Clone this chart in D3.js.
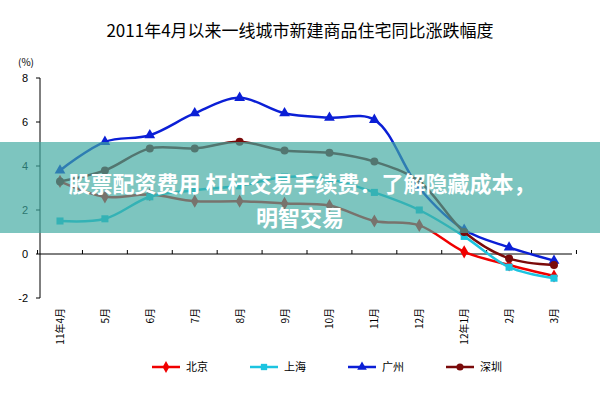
<!DOCTYPE html>
<html><head><meta charset="utf-8">
<script src="https://cdn.jsdelivr.net/npm/d3@7"></script>
<style>body{margin:0;background:#fff;font-family:"Noto Sans CJK SC",sans-serif}</style>
</head><body><div id="chart"></div>
<script>
var months = ["11年4月","5月","6月","7月","8月","9月","10月","11月","12月","12年1月","2月","3月"];
var beijing = [3.3, 2.6, 2.7, 2.4, 2.4, 2.3, 2.2, 1.5, 1.3, 0.1, -0.5, -1.0];
var shanghai = [1.5, 1.6, 2.6, 2.9, 3.1, 3.5, 3.4, 2.8, 2.0, 0.8, -0.6, -1.1];
var guangzhou = [3.8, 5.1, 5.4, 6.4, 7.1, 6.4, 6.2, 6.1, 3.0, 1.1, 0.3, -0.3];
var shenzhen = [3.3, 3.8, 4.8, 4.8, 5.1, 4.7, 4.6, 4.2, 3.3, 1.0, -0.2, -0.5];
var yTicks = [-2, 0, 2, 4, 6, 8];

var series = [
  {name:"北京", values:beijing, color:"#f00000", shape:d3.symbolDiamond},
  {name:"上海", values:shanghai, color:"#1cc4e0", shape:d3.symbolSquare},
  {name:"广州", values:guangzhou, color:"#0b1fd6", shape:d3.symbolTriangle},
  {name:"深圳", values:shenzhen, color:"#7a0a0a", shape:d3.symbolCircle}
];

var svg = d3.select("#chart").append("svg").attr("width",600).attr("height",400);

svg.append("text").attr("x",300).attr("y",37).attr("text-anchor","middle")
  .attr("font-size",17).text("2011年4月以来一线城市新建商品住宅同比涨跌幅度");

var x0 = 40, x1 = 572;
var x = d3.scalePoint().domain(months).range([60,554]);
var y = d3.scaleLinear().domain([-2,8]).range([298,78]);

// axes
svg.append("line").attr("x1",x0).attr("x2",x0).attr("y1",y(8)).attr("y2",y(-2)).attr("stroke","#000");
svg.append("line").attr("x1",x0).attr("x2",x1).attr("y1",y(0)).attr("y2",y(0)).attr("stroke","#000");
svg.selectAll(".yt").data(yTicks).enter().append("text")
  .attr("x",x0-12).attr("y",d=>y(d)+4).attr("text-anchor","end").attr("font-size",11)
  .attr("font-family","Liberation Sans").text(d=>d);
svg.selectAll(".ytk").data(yTicks).enter().append("line")
  .attr("x1",x0-4).attr("x2",x0).attr("y1",d=>y(d)).attr("y2",d=>y(d)).attr("stroke","#000");
svg.append("text").attr("x",x0-22).attr("y",66).attr("font-size",10).text("(%)");
var step = x.step();
svg.selectAll(".xtk").data(months.concat([""])).enter().append("line")
  .attr("x1",(d,i)=>x(months[0])-step/2+i*step).attr("x2",(d,i)=>x(months[0])-step/2+i*step)
  .attr("y1",y(0)).attr("y2",y(0)-4).attr("stroke","#000");
svg.selectAll(".xl").data(months).enter().append("text")
  .attr("transform",d=>`translate(${x(d)+4},${y(-2)+10}) rotate(-90)`)
  .attr("text-anchor","end").attr("font-size",10).text(d=>d);

// lines
var line = d3.line().x((d,i)=>x(months[i])).y(d=>y(d)).curve(d3.curveCatmullRom);
series.forEach(function(s){
  svg.append("path").datum(s.values).attr("d",line).attr("fill","none")
    .attr("stroke",s.color).attr("stroke-width",2.5);
  svg.selectAll(null).data(s.values).enter().append("path")
    .attr("d",d3.symbol().type(s.shape).size(50))
    .attr("transform",(d,i)=>`translate(${x(months[i])},${y(d)})`)
    .attr("fill",s.color);
});

// legend
var lg = svg.selectAll(".lg").data(series).enter().append("g")
  .attr("transform",(d,i)=>`translate(${152+i*98},367)`);
lg.append("line").attr("x1",0).attr("x2",28).attr("stroke",d=>d.color).attr("stroke-width",2.5);
lg.append("path").attr("d",d=>d3.symbol().type(d.shape).size(40)()).attr("transform","translate(14,0)").attr("fill",d=>d.color);
lg.append("text").attr("x",34).attr("y",4).attr("font-size",11).text(d=>d.name);

// overlay banner
svg.append("rect").attr("x",0).attr("y",142).attr("width",600).attr("height",91)
  .attr("fill","rgba(64,170,160,0.68)");
svg.append("text").attr("x",302).attr("y",192).attr("text-anchor","middle").attr("font-size",22)
  .attr("font-weight","bold").attr("fill","#fff").text("股票配资费用 杠杆交易手续费：了解隐藏成本，");
svg.append("text").attr("x",300).attr("y",226).attr("text-anchor","middle").attr("font-size",22)
  .attr("font-weight","bold").attr("fill","#fff").text("明智交易");
</script></body></html>
